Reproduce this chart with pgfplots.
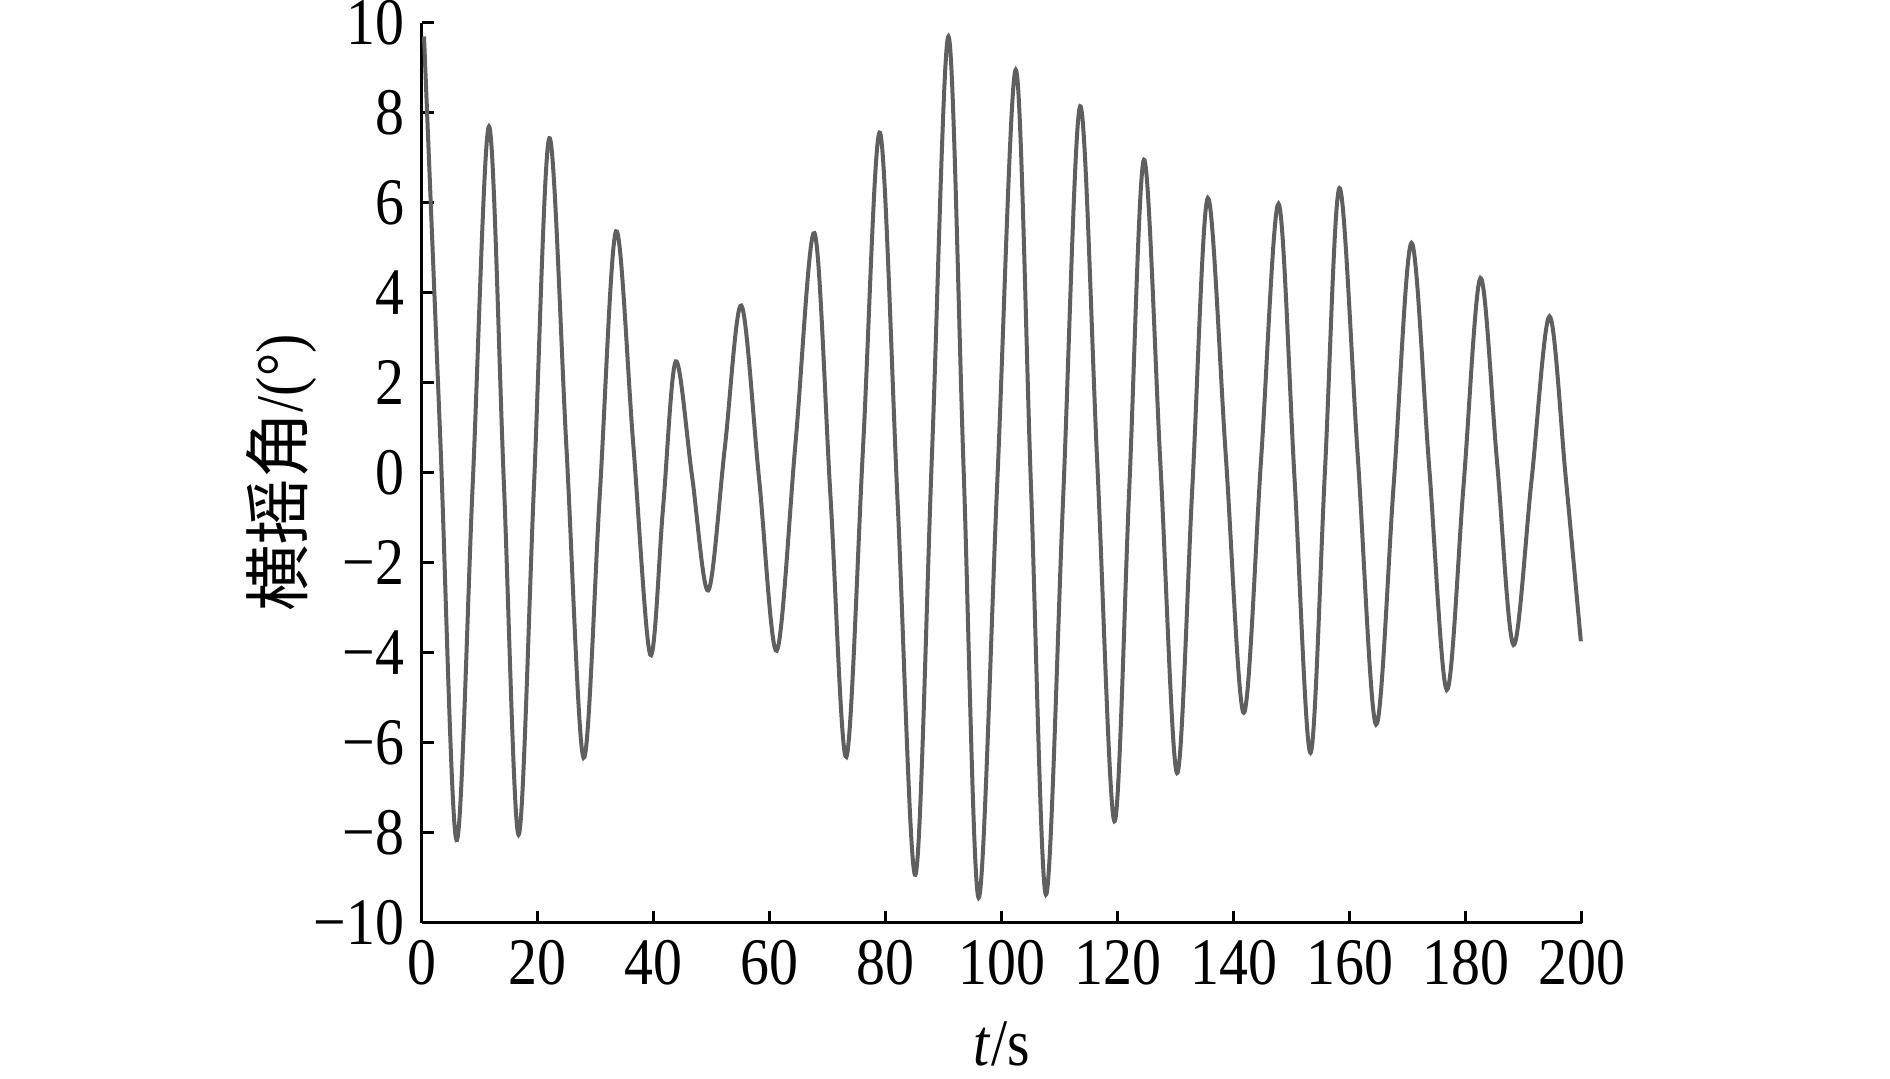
\documentclass[border=0pt]{standalone}
\usepackage{fontspec}
\setmainfont[FakeStretch=0.87]{Liberation Serif}
\newfontfamily\cjk{Noto Sans CJK SC}
\usepackage{pgfplots}
\pgfplotsset{compat=1.18}

\definecolor{wave}{RGB}{95,95,95}

\begin{document}
\begin{tikzpicture}
\useasboundingbox (-84.34pt,-31.2pt) rectangle (293.66pt,184.6pt);
\begin{axis}[
    at={(0,0)}, anchor=south west,
    scale only axis,
    width=232.06pt,
    height=180pt,
    xmin=0, xmax=200,
    ymin=-10, ymax=10,
    axis lines*=left,
    axis line style={line width=0.6pt, black},
    tick style={line width=0.6pt, black},
    major tick length=2.4pt,
    tick align=inside,
    xtick={0,20,...,200},
    xticklabels={0,20,40,60,80,100,120,140,160,180,200},
    ytick={-10,-8,...,10},
    yticklabels={−10,−8,−6,−4,−2,0,2,4,6,8,10},
    ticklabel style={font=\fontsize{13.3}{16}\selectfont},
    label style={font=\fontsize{13.3}{16}\selectfont},
    xlabel={\textit{t}/s},
    ylabel={{\cjk 横摇角}/(°)},
    xlabel style={at={(axis description cs:0.5,-0.134)}, anchor=center},
    ylabel style={at={(axis description cs:-0.1204,0.5)}, anchor=center},
    clip=false,
]

% roll angle time history: peaks, troughs and mid-crossings
\addplot[wave, line width=0.8pt, smooth, tension=0.55] coordinates {
    (0.4,9.7) (3.2,0.77)
    (6.0,-8.16) (8.8,-0.23)
    (11.6,7.7) (14.15,-0.17)
    (16.7,-8.04) (19.35,-0.3)
    (22.0,7.44) (24.95,0.56)
    (27.9,-6.33) (30.7,-0.48)
    (33.5,5.37) (36.45,0.67)
    (39.4,-4.04) (41.6,-0.78)
    (43.8,2.48) (46.6,-0.07)
    (49.4,-2.61) (52.25,0.56)
    (55.1,3.72) (58.15,-0.12)
    (61.2,-3.95) (64.45,0.69)
    (67.7,5.33) (70.45,-0.49)
    (73.2,-6.31) (76.1,0.63)
    (79.0,7.56) (82.05,-0.69)
    (85.1,-8.93) (87.95,0.39)
    (90.8,9.7) (93.4,0.13)
    (96.0,-9.44) (99.2,-0.24)
    (102.4,8.96) (105.0,-0.21)
    (107.6,-9.37) (110.55,-0.61)
    (113.5,8.15) (116.45,0.21)
    (119.4,-7.74) (121.95,-0.39)
    (124.5,6.96) (127.35,0.15)
    (130.2,-6.67) (132.85,-0.28)
    (135.5,6.11) (138.6,0.39)
    (141.7,-5.33) (144.7,0.33)
    (147.7,5.98) (150.45,-0.12)
    (153.2,-6.22) (155.7,0.06)
    (158.2,6.33) (161.35,0.37)
    (164.5,-5.59) (167.55,-0.24)
    (170.6,5.11) (173.65,0.15)
    (176.7,-4.82) (179.6,-0.25)
    (182.5,4.33) (185.35,0.26)
    (188.2,-3.82) (191.3,-0.17)
    (194.4,3.48) (197.2,-0.1)
    (199.8,-3.74)
};

\end{axis}
\end{tikzpicture}
\end{document}
